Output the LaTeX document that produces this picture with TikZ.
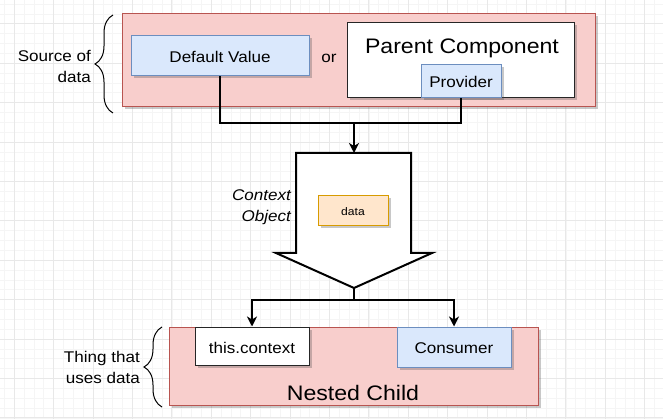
\documentclass[tikz,border=0pt]{standalone}
\usepackage{fontspec}
\setmainfont{Liberation Sans}[FakeStretch=1.1]
\usetikzlibrary{shadows,arrows.meta,decorations.pathreplacing}
\definecolor{pinkfill}{HTML}{F8CECC}
\definecolor{pinkline}{HTML}{B85450}
\definecolor{bluefill}{HTML}{DAE8FC}
\definecolor{blueline}{HTML}{6C8EBF}
\definecolor{orfill}{HTML}{FFE6CC}
\definecolor{orline}{HTML}{D79B00}
\definecolor{gridminor}{HTML}{F5F5F5}
\definecolor{gridmajor}{HTML}{E8E8E8}
\tikzset{
  shd/.style={drop shadow={shadow xshift=2.5pt,shadow yshift=-2.5pt,opacity=0.3,fill=black!70}},
  box/.style={draw, rectangle, inner sep=0pt, line width=1pt, shd},
  pinkbox/.style={box, fill=pinkfill, draw=pinkline},
  bluebox/.style={box, fill=bluefill, draw=blueline},
  whitebox/.style={box, fill=white, draw=black!85},
  orbox/.style={box, fill=orfill, draw=orline},
  txt/.style={inner sep=0pt, font=\fontsize{15.5}{21}\selectfont},
  bigtxt/.style={inner sep=0pt, font=\fontsize{21}{25}\selectfont},
  conn/.style={line width=2pt, draw=black},
  arr/.style={conn, -{Stealth[length=10pt,width=10pt,inset=3pt]}},
  bracepath/.style={decorate, decoration={brace, amplitude=18pt}, line width=1pt},
}
\begin{document}
\begin{tikzpicture}[x=1pt,y=-1pt]
\useasboundingbox (0,0) rectangle (663,419);
\fill[white] (0,0) rectangle (663,419);
% grid
\foreach \i in {-1,...,65} \draw[gridminor, line width=0.6pt] ({14.2+9.85*\i},0) -- ({14.2+9.85*\i},419);
\foreach \i in {-2,...,40} \draw[gridminor, line width=0.6pt] (0,{23.8+9.85*\i}) -- (663,{23.8+9.85*\i});
\foreach \i in {0,...,16} \draw[gridmajor, line width=0.7pt] ({14.2+39.4*\i},0) -- ({14.2+39.4*\i},419);
\foreach \i in {-1,...,10} \draw[gridmajor, line width=0.7pt] (0,{23.8+39.4*\i}) -- (663,{23.8+39.4*\i});

% top group
\node[pinkbox, minimum width=473pt, minimum height=93pt] (top) at (358.5,60.5) {};
\node[bluebox, minimum width=178pt, minimum height=40pt] (dv) at (220,56) {};
\node[txt] (dvt) at (220,57) {Default Value};
\node[txt] (or) at (329,58) {or};
\node[whitebox, minimum width=227pt, minimum height=75pt] (parent) at (460.5,60.5) {};
\node[bigtxt] (parentt) at (462,48) {Parent Component};
\node[bluebox, minimum width=80pt, minimum height=33pt] (prov) at (461,81.5) {};
\node[txt] (provt) at (461,82) {Provider};

% brace left top
\draw[bracepath] (113,113) -- (113,15);
\node[txt, align=right, anchor=east] (src) at (91,66) {Source of\\data};

% connectors top
\coordinate (j) at (354,123);
\coordinate (atop) at (354,153);
\draw[conn] (dv.south) |- (j) -| (prov.south);
\draw[arr] (j) -- (atop);

% big arrow
\coordinate (atip) at (354,288);
\draw[line width=2pt, fill=white, line join=miter] (296,153) -- (411,153) -- (411,253) -- (432,253) -- (atip) -- (276,253) -- (296,253) -- cycle;
\node[orbox, minimum width=70pt, minimum height=30pt] (data) at (353,211) {};
\node[inner sep=0pt, font=\fontsize{11}{13}\selectfont] (datat) at (353,212) {data};
\node[txt, align=right, anchor=east, font=\fontsize{15.5}{21}\selectfont\itshape] (ctx) at (291,207.5) {Context\\Object};

% bottom group
\node[pinkbox, minimum width=369pt, minimum height=78pt] (bottom) at (353.5,366) {};
\node[whitebox, minimum width=114pt, minimum height=38pt] (tc) at (252,346) {};
\node[txt] (tct) at (252,348) {this.context};
\node[bluebox, minimum width=114pt, minimum height=40pt] (cons) at (454,347) {};
\node[txt] (const) at (454,348) {Consumer};
\node[bigtxt] (nested) at (353,393) {Nested Child};

\coordinate (split) at (354,300);
\draw[conn] (atip) -- (split);
\draw[arr] (split) -| (tc.north);
\draw[arr] (split) -| (cons.north);

\draw[bracepath] (162,407) -- (162,327);
\node[txt, align=right, anchor=east] (thing) at (140,367.5) {Thing that\\uses data};
\end{tikzpicture}
\end{document}
